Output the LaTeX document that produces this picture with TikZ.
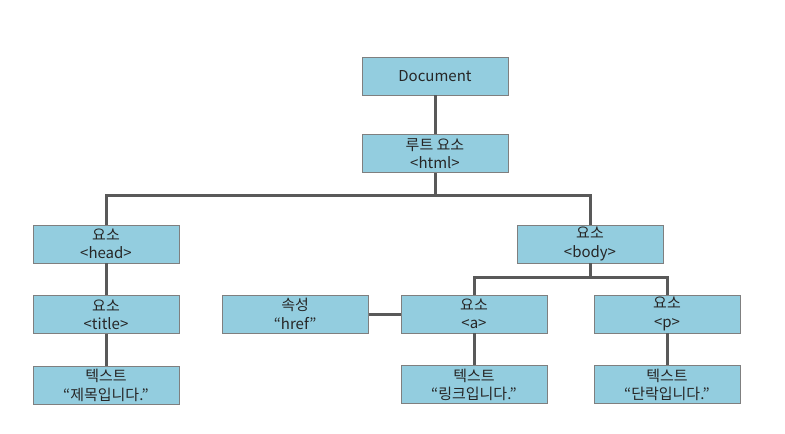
\documentclass[tikz,border=0pt]{standalone}
\usepackage{fontspec}
\setmainfont{Noto Sans CJK KR}
\usepackage{xcolor}
\usepackage{tikz}
\usetikzlibrary{positioning}
\definecolor{boxfill}{HTML}{93CDDF}
\definecolor{boxline}{HTML}{7F7F7F}
\definecolor{wire}{HTML}{595959}
\definecolor{ink}{HTML}{262626}

\begin{document}
\begin{tikzpicture}[
   x=1pt,y=-1pt,
   font=\fontsize{15}{18.5}\selectfont,
   node distance=32pt,
   elem/.style ={draw=boxline,fill=boxfill,line width=0.8pt,text=ink,minimum width=146pt,minimum height=38pt,inner sep=1pt,align=center},
   wr/.style   ={draw=wire,line width=3pt}
  ]
  \useasboundingbox (0,0) rectangle (785,434);

  % root
  \node[elem] (doc) at (435,76) {Document};
  \node[elem,below=39pt of doc] (html) {루트 요소\\<html>};

  % head branch
  \node[elem] (head) at (106,244) {요소\\<head>};
  \node[elem,below=of head] (title) {요소\\<title>};
  \node[elem,below=of title] (ttext) {텍스트\\“제목입니다.”};

  % body branch
  \node[elem] (body) at (590,244) {요소\\<body>};
  \node[elem] (a) at (474,314) {요소\\<a>};
  \node[elem,left=of a] (href) {속성\\“href”};
  \node[elem,below=of a] (atext) {텍스트\\“링크입니다.”};
  \node[elem] (p) at (667,314) {요소\\<p>};
  \node[elem,below=of p] (ptext) {텍스트\\“단락입니다.”};

  \coordinate (hbar) at (435,195);
  \coordinate (bbar) at (590,277);

  \draw[wr] (doc) -- (html);
  \draw[wr] (html.south) -- (hbar) -| (head.north);
  \draw[wr] (hbar) -| (body.north);
  \draw[wr] (head) -- (title);
  \draw[wr] (title) -- (ttext);
  \draw[wr] (body.south) -- (bbar) -| (a.north);
  \draw[wr] (bbar) -| (p.north);
  \draw[wr] (href) -- (a);
  \draw[wr] (a) -- (atext);
  \draw[wr] (p) -- (ptext);
\end{tikzpicture}
\end{document}
